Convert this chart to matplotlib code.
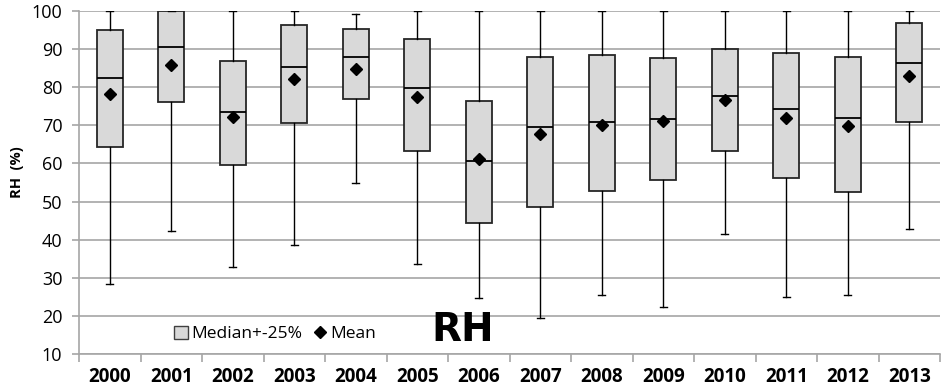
# Box plot of yearly RH statistics (2000-2013)
import matplotlib
matplotlib.use('Agg')
import matplotlib.pyplot as plt
from matplotlib.lines import Line2D
from matplotlib.patches import Patch

years = ['2000', '2001', '2002', '2003', '2004', '2005', '2006',
         '2007', '2008', '2009', '2010', '2011', '2012', '2013']
whis_hi = [100, 100, 100, 100, 99.1, 100, 100, 100, 100, 100, 100, 100, 100, 100]
q3 = [95.0, 100, 86.9, 96.3, 95.3, 92.7, 76.4, 88.0, 88.5, 87.7, 89.9, 88.9, 87.8, 96.9]
median = [82.5, 90.5, 73.5, 85.4, 88.0, 79.8, 60.6, 69.5, 70.9, 71.7, 77.7, 74.3, 71.9, 86.3]
mean = [78.1, 85.8, 72.2, 82.2, 84.9, 77.4, 61.2, 67.8, 70.0, 71.1, 76.6, 71.8, 69.7, 82.9]
q1 = [64.4, 76.0, 59.7, 70.5, 76.8, 63.3, 44.5, 48.6, 52.7, 55.6, 63.3, 56.1, 52.4, 70.9]
whis_lo = [28.3, 42.2, 32.9, 38.5, 54.9, 33.6, 24.7, 19.4, 25.4, 22.4, 41.4, 25.0, 25.5, 42.9]

stats = []
for i in range(len(years)):
    stats.append({'label': years[i], 'whishi': whis_hi[i], 'q3': q3[i], 'med': median[i],
                  'mean': mean[i], 'q1': q1[i], 'whislo': whis_lo[i]})

fig = plt.figure(figsize=(9.41, 3.9), dpi=100)
ax = fig.add_axes([79 / 941, 36 / 390, 861 / 941, 343 / 390])

pos = list(range(len(years)))
ax.bxp(stats, positions=pos, widths=0.42, showmeans=True, showfliers=False,
       patch_artist=True,
       boxprops=dict(facecolor='#d9d9d9', edgecolor='#262626', linewidth=1.3),
       medianprops=dict(color='#000000', linewidth=1.3),
       whiskerprops=dict(color='#000000', linewidth=1.0),
       capprops=dict(color='#000000', linewidth=1.0),
       capwidths=0.11,
       meanprops=dict(marker='D', markerfacecolor='black', markeredgecolor='black',
                      markersize=6.5))

ax.set_xlim(-0.5, len(years) - 0.5)
ax.set_ylim(10, 100)
ax.set_yticks(range(10, 101, 10))
ax.yaxis.grid(True, color='#a6a6a6', linewidth=1.2)
ax.set_axisbelow(True)

ax.set_xticks(pos)
ax.set_xticklabels(years, fontsize=13.5, fontweight='bold', family='Open Sans')
ax.set_xticks([p - 0.5 for p in pos] + [len(years) - 0.5], minor=True)
ax.tick_params(axis='x', which='major', length=0, pad=9)
ax.tick_params(axis='x', which='minor', length=6, color='#a6a6a6', width=1.2)
ax.tick_params(axis='y', length=5, color='#a6a6a6', width=1.2, labelsize=13, pad=7)
for lab in ax.get_yticklabels():
    lab.set_family('Open Sans')

for s in ['top', 'right']:
    ax.spines[s].set_visible(False)
for s in ['left', 'bottom']:
    ax.spines[s].set_color('#a6a6a6')
    ax.spines[s].set_linewidth(1.2)

ax.set_ylabel('RH  (%)', fontsize=10.5, fontweight='bold', family='Open Sans')
ax.yaxis.set_label_coords(-0.064, 0.53)

handles = [Patch(facecolor='#d9d9d9', edgecolor='#404040', linewidth=1.0),
           Line2D([], [], marker='D', color='black', linestyle='None', markersize=6)]
ax.legend(handles, ['Median+-25%', 'Mean'], loc='lower left', bbox_to_anchor=(0.092, -0.012),
          ncol=2, frameon=False, handlelength=0.8, handleheight=0.8,
          handletextpad=0.2, columnspacing=0.6, prop={'family': 'Open Sans', 'size': 12.5})

ax.text(463, 390 - 330, 'RH', transform=None, fontsize=28, fontweight='bold',
        family='DejaVu Sans', ha='center', va='center')

fig.savefig('out.png', dpi=100)
